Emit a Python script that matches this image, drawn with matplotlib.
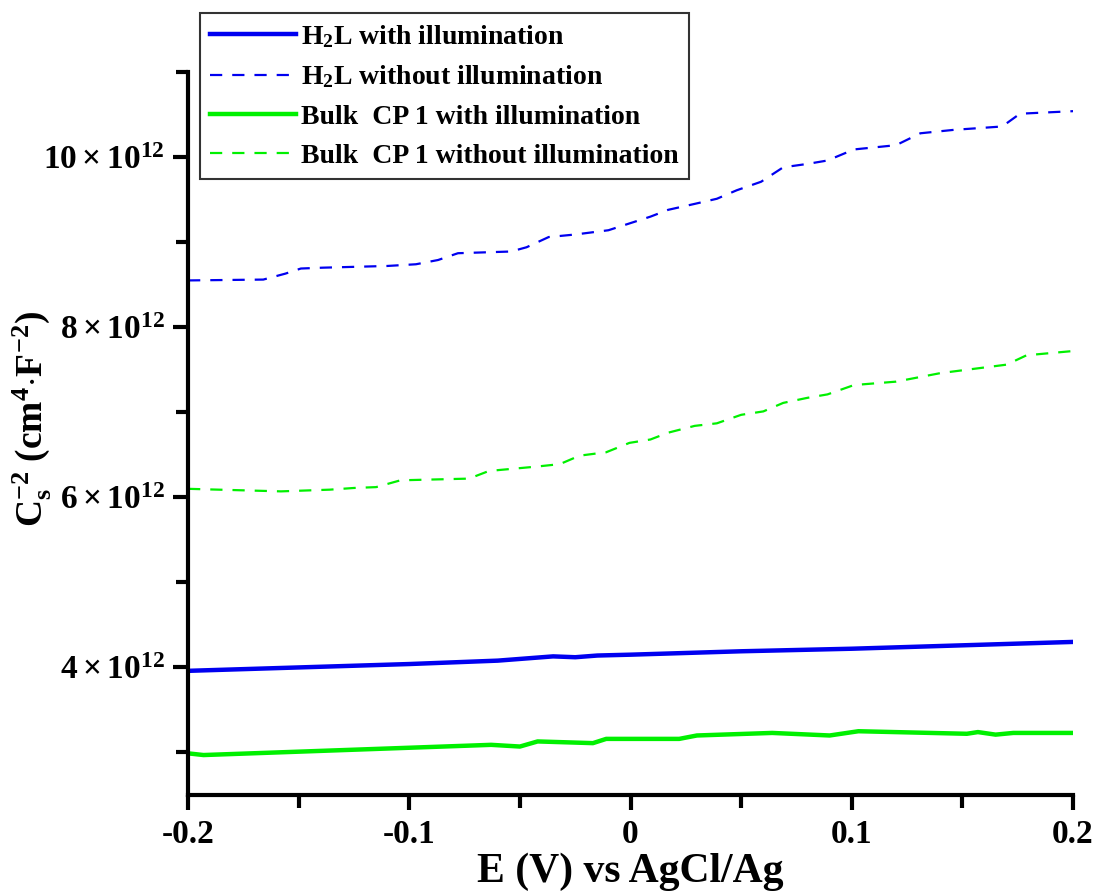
import matplotlib
matplotlib.use('Agg')
import matplotlib.pyplot as plt
from matplotlib.ticker import FixedLocator, FuncFormatter

# === Global style
plt.rcParams['font.family'] = ['Liberation Serif', 'DejaVu Serif']
plt.rcParams['font.weight'] = 'bold'
plt.rcParams['mathtext.fontset'] = 'custom'
plt.rcParams['mathtext.rm'] = 'Liberation Serif:bold'
plt.rcParams['mathtext.it'] = 'Liberation Serif:bold'
plt.rcParams['mathtext.bf'] = 'Liberation Serif:bold'

blue = '#0000f0'
green = '#00f000'

# === Data (E in V, C^-2 in units of 1e12 cm^4 F^-2)
E_h2l_light = [-0.2, -0.15, -0.1, -0.06, -0.045, -0.035, -0.025, -0.015, 0.0, 0.05, 0.1, 0.15, 0.2]
C_h2l_light = [3.96, 4.00, 4.04, 4.08, 4.11, 4.13, 4.12, 4.14, 4.15, 4.19, 4.22, 4.26, 4.30]

E_h2l_dark = [-0.2, -0.166, -0.156, -0.149, -0.139, -0.11, -0.097, -0.087, -0.078, -0.054, -0.047,
              -0.037, -0.025, -0.01, 0.009, 0.017, 0.029, 0.039, 0.048, 0.059, 0.069, 0.080, 0.089,
              0.101, 0.120, 0.131, 0.146, 0.168, 0.176, 0.2]
C_h2l_dark = [8.55, 8.56, 8.63, 8.69, 8.70, 8.72, 8.74, 8.79, 8.87, 8.89, 8.94,
              9.06, 9.09, 9.14, 9.30, 9.38, 9.45, 9.51, 9.61, 9.71, 9.88, 9.92, 9.96,
              10.09, 10.14, 10.28, 10.32, 10.36, 10.51, 10.54]

E_cp_light = [-0.2, -0.193, -0.063, -0.050, -0.042, -0.017, -0.011, 0.022, 0.030, 0.064, 0.090,
              0.103, 0.152, 0.157, 0.165, 0.173, 0.2]
C_cp_light = [2.99, 2.97, 3.09, 3.07, 3.13, 3.11, 3.16, 3.16, 3.20, 3.23, 3.20,
              3.25, 3.22, 3.24, 3.21, 3.23, 3.23]

E_cp_dark = [-0.2, -0.158, -0.136, -0.125, -0.115, -0.104, -0.073, -0.064, -0.043, -0.032, -0.023,
             -0.011, -0.0005, 0.009, 0.017, 0.029, 0.039, 0.050, 0.060, 0.069, 0.080, 0.089, 0.101,
             0.120, 0.140, 0.161, 0.170, 0.179, 0.2]
C_cp_dark = [6.10, 6.07, 6.09, 6.11, 6.12, 6.20, 6.22, 6.31, 6.36, 6.39, 6.49,
             6.53, 6.64, 6.68, 6.76, 6.84, 6.87, 6.97, 7.01, 7.11, 7.17, 7.21, 7.32,
             7.36, 7.46, 7.53, 7.56, 7.67, 7.72]

x_major = [-0.2, -0.1, 0, 0.1, 0.2]
x_minor = [-0.15, -0.05, 0.05, 0.15]
y_major = [4, 6, 8, 10]
y_minor = [3, 5, 7, 9, 11]

scale = 1e12

fig = plt.figure(figsize=(11.01, 8.96), dpi=100)
ax = fig.add_axes([0.1708, 0.1127, 0.8038, 0.8069])

dash = (0, (5.5, 4.5))
ax.plot(E_h2l_light, [c * scale for c in C_h2l_light], color=blue, lw=3.2,
        label=r'H$_2$L with illumination')
ax.plot(E_h2l_dark, [c * scale for c in C_h2l_dark], color=blue, lw=1.6, ls=dash,
        label=r'H$_2$L without illumination')
ax.plot(E_cp_light, [c * scale for c in C_cp_light], color=green, lw=3.2,
        label='Bulk  CP 1 with illumination')
ax.plot(E_cp_dark, [c * scale for c in C_cp_dark], color=green, lw=1.6, ls=dash,
        label='Bulk  CP 1 without illumination')

ax.set_xlim(-0.2, 0.2)
ax.set_ylim(2.5e12, 11e12)

ax.spines['top'].set_visible(False)
ax.spines['right'].set_visible(False)
ax.spines['left'].set_linewidth(3)
ax.spines['bottom'].set_linewidth(3)

ax.xaxis.set_major_locator(FixedLocator(x_major))
ax.xaxis.set_minor_locator(FixedLocator(x_minor))
ax.xaxis.set_major_formatter(FuncFormatter(lambda v, p: '0' if abs(v) < 1e-9 else '%.1f' % v))
ax.yaxis.set_major_locator(FixedLocator([v * scale for v in y_major]))
ax.yaxis.set_minor_locator(FixedLocator([v * scale for v in y_minor]))
ax.yaxis.set_major_formatter(FuncFormatter(lambda v, p: r'$%d\times10^{12}$' % round(v / scale)))

ax.tick_params(which='major', direction='out', length=11, width=3, labelsize=24, pad=6)
ax.tick_params(which='minor', direction='out', length=9, width=3)

ax.set_xlabel('E (V) vs AgCl/Ag', fontsize=30, fontweight='bold', labelpad=2)
ax.set_ylabel(r'C$_\mathrm{s}^{-2}$ (cm$^4$$\cdot$F$^{-2}$)', fontsize=27, fontweight='bold')
# put the y label by hand, it sits left of the short tick labels
ax.yaxis.set_label_coords(-0.152, 0.52)

leg = ax.legend(loc='upper left', bbox_to_anchor=(200 / 1101, 1 - 13 / 896),
                bbox_transform=fig.transFigure, fontsize=20, frameon=True, fancybox=False,
                handlelength=3.1, borderpad=0.35, labelspacing=0.5, handletextpad=0.2,
                borderaxespad=0)
leg.get_frame().set_edgecolor('black')
leg.get_frame().set_linewidth(1.5)

plt.savefig('out.png', dpi=100)
plt.close()
